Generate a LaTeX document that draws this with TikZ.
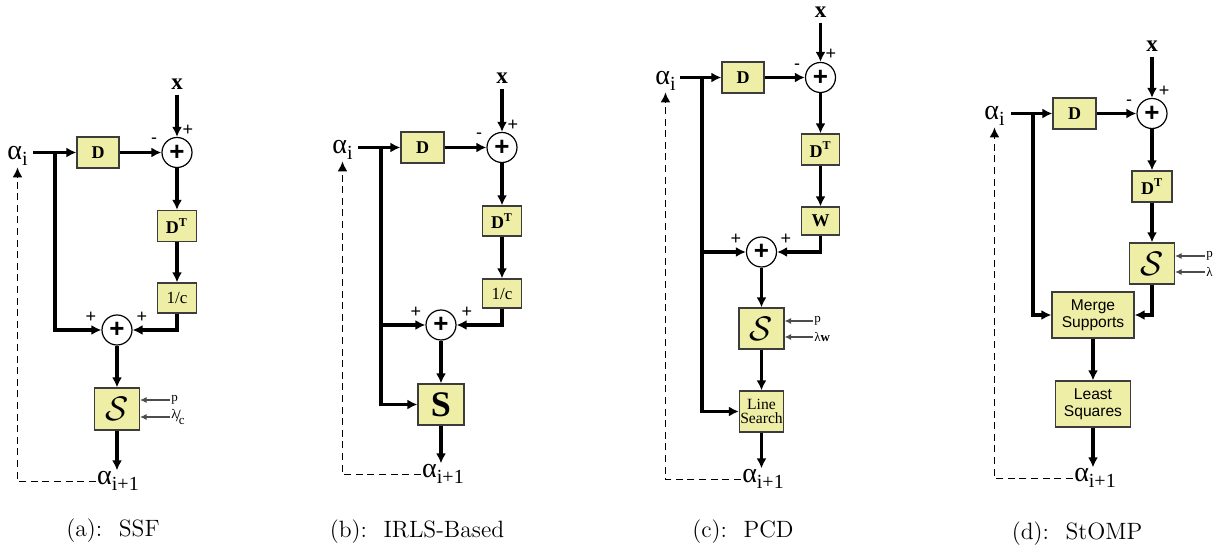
\documentclass[tikz,border=0pt]{standalone}
\usepackage{fontspec}
\newfontfamily\tnr{Liberation Serif}
\newfontfamily\arl{Liberation Sans}
\usetikzlibrary{arrows.meta}
\definecolor{boxfill}{RGB}{238,238,166}
\definecolor{boxline}{RGB}{60,60,60}
\newcommand\fsz[1]{\fontsize{#1}{#1}\selectfont}
\newcommand\alphalab[1]{{\tnr\fsz{14}α\raisebox{-3pt}{\fsz{10}#1}}}
\newcommand\calS{\scalebox{1.7}{$\mathcal{S}$}}
\newcommand\capgap{\hspace{0.7em}}
\tikzset{
  blk/.style={draw=boxline, fill=boxfill, line width=0.6pt, inner sep=0pt, align=center},
  sz/.style 2 args={minimum width=#1*0.5pt, minimum height=#2*0.5pt},
  sumc/.style={circle, draw=black, fill=white, line width=0.6pt, minimum size=15pt, inner sep=0pt, font=\arl\bfseries\fsz{13}},
  arr/.style={line width=1.6pt, -{Latex[length=5pt,width=5pt]}},
  darr/.style={line width=0.85pt, dash pattern=on 3.5pt off 2.3pt, -{Latex[length=5pt,width=5pt]}},
  tarr/.style={line width=0.55pt, draw=black!70, -{Latex[length=3.2pt,width=3pt]}},
  alab/.style={inner sep=0.5pt},
  xlab/.style={font=\tnr\bfseries\fsz{11.5}, inner sep=2.5pt},
  pm/.style={font=\arl\fsz{9}, inner sep=0pt},
  tlab/.style={font=\tnr\fsz{6.5}, inner sep=0.5pt},
  captxt/.style={font=\fsz{11.8}, anchor=base},
  bt/.style={font=\tnr\bfseries\fsz{9}},
  rt/.style={font=\tnr\fsz{8.5}},
  cs/.style={font=\fsz{10}},
}
\begin{document}
\begin{tikzpicture}[x=0.5pt,y=-0.5pt]
\useasboundingbox (0,0) rectangle (1223,550);

% ---------------- (a) SSF
\node[alab, anchor=base east] (ai-a) at (29,160) {\alphalab{i}};
\coordinate (st-a) at (33,152.5);
\coordinate (br-a) at (55,152.5);
\node[blk, sz={42}{31}, bt] (d-a) at (98,152.5) {D};
\node[sumc] (s1-a) at (177,152.5) {+};
\node[xlab] (x-a) at (177,84) {x};
\node[pm] (pp1-a) at (188,130) {+};
\node[pm] (mm1-a) at (154,141) {-};
\node[blk, sz={39}{31}, bt] (dt-a) at (177,226) {D\textsuperscript{T}};
\node[blk, sz={39}{30}, rt] (c-a) at (177,298) {1/c};
\node[sumc] (s2-a) at (117,330) {+};
\node[pm] (pp2-a) at (91,317) {+};
\node[pm] (pp3-a) at (142,317) {+};
\node[blk, sz={45}{42}, cs] (S-a) at (117,409) {\calS};
\node[alab, anchor=base] (ao-a) at (118,485) {\alphalab{i+1}};
\node[tlab, anchor=west] (p-a) at (170,400) {p};
\node[tlab, anchor=west] (l-a) at (170,417) {\raisebox{1.2pt}{λ}\kern-0.8pt{\fsz{8.5}/}\kern-1pt\raisebox{-1.5pt}{c}};
\draw[arr] (st-a) -- (d-a.west);
\draw[arr] (d-a.east) -- (s1-a.west);
\draw[arr] (x-a.south) -- (s1-a.north);
\draw[arr] (s1-a.south) -- (dt-a.north);
\draw[arr] (dt-a.south) -- (c-a.north);
\draw[arr] (c-a.south) |- (s2-a.east);
\draw[arr] (br-a) |- (s2-a.west);
\draw[arr] (s2-a.south) -- (S-a.north);
\draw[arr] (S-a.south) -- (S-a.south |- ao-a.north);
\draw[tarr] (p-a.west) -- (p-a.west -| S-a.east);
\draw[tarr] (l-a.west) -- (l-a.west -| S-a.east);
\draw[darr] (ao-a.west) -| (ai-a.south);
\node[captxt] (cap-a) at (113,537) {(a):\capgap SSF};

% ---------------- (b) IRLS
\node[alab, anchor=base east] (ai-b) at (354,154) {\alphalab{i}};
\coordinate (st-b) at (358,147.5);
\coordinate (br-b) at (381,147.5);
\node[blk, sz={43}{31}, bt] (d-b) at (422.5,147.5) {D};
\node[sumc] (s1-b) at (502,147.5) {+};
\node[xlab] (x-b) at (502,78) {x};
\node[pm] (pp1-b) at (513,125) {+};
\node[pm] (mm1-b) at (479,136) {-};
\node[blk, sz={39}{30}, bt] (dt-b) at (502,221) {D\textsuperscript{T}};
\node[blk, sz={39}{29}, rt] (c-b) at (502,293.5) {1/c};
\node[sumc] (s2-b) at (441,325) {+};
\node[pm] (pp2-b) at (416,312) {+};
\node[pm] (pp3-b) at (467,312) {+};
\node[blk, sz={46}{41}, font=\tnr\bfseries\fsz{18}] (S-b) at (441,404.5) {S};
\node[alab, anchor=base] (ao-b) at (443,478) {\alphalab{i+1}};
\draw[arr] (st-b) -- (d-b.west);
\draw[arr] (d-b.east) -- (s1-b.west);
\draw[arr] (x-b.south) -- (s1-b.north);
\draw[arr] (s1-b.south) -- (dt-b.north);
\draw[arr] (dt-b.south) -- (c-b.north);
\draw[arr] (c-b.south) |- (s2-b.east);
\draw[arr] (br-b) |- (S-b.west);
\draw[arr] (br-b |- s2-b) -- (s2-b.west);
\draw[arr] (s2-b.south) -- (S-b.north);
\draw[arr] (S-b.south) -- (S-b.south |- ao-b.north);
\draw[darr] (ao-b.west) -| (ai-b.south);
\node[captxt] (cap-b) at (417,538) {(b):\capgap IRLS-Based};

% ---------------- (c) PCD
\node[alab, anchor=base east] (ai-c) at (677,85) {\alphalab{i}};
\coordinate (st-c) at (680,77.5);
\coordinate (br-c) at (702,77.5);
\node[blk, sz={42}{31}, bt] (d-c) at (743,77.5) {D};
\node[sumc] (s1-c) at (820.5,77.5) {+};
\node[xlab] (x-c) at (820.5,12) {x};
\node[pm] (pp1-c) at (831,54) {+};
\node[pm] (mm1-c) at (797,67) {-};
\node[blk, sz={38}{31}, bt] (dt-c) at (820.5,149.5) {D\textsuperscript{T}};
\node[blk, sz={38}{28}, bt] (w-c) at (820.5,221) {W};
\node[sumc] (s2-c) at (761.5,252) {+};
\node[pm] (pp2-c) at (736,239) {+};
\node[pm] (pp3-c) at (786,239) {+};
\node[blk, sz={45}{41}, cs] (S-c) at (761.5,328.5) {\calS};
\node[blk, sz={44}{41}, font=\tnr\fsz{7.8}, align=center] (ls-c) at (761.5,411.5) {Line\\[-0.5pt]Search};
\node[alab, anchor=base] (ao-c) at (763,483) {\alphalab{i+1}};
\node[tlab, anchor=west] (p-c) at (813,321) {p};
\node[tlab, anchor=west] (l-c) at (813,337) {λ\textbf{w}};
\draw[arr] (st-c) -- (d-c.west);
\draw[arr] (d-c.east) -- (s1-c.west);
\draw[arr] (x-c.south) -- (s1-c.north);
\draw[arr] (s1-c.south) -- (dt-c.north);
\draw[arr] (dt-c.south) -- (w-c.north);
\draw[arr] (w-c.south) |- (s2-c.east);
\draw[arr] (br-c) |- (ls-c.west);
\draw[arr] (br-c |- s2-c) -- (s2-c.west);
\draw[arr] (s2-c.south) -- (S-c.north);
\draw[arr] (S-c.south) -- (ls-c.north);
\draw[arr] (ls-c.south) -- (ls-c.south |- ao-c.north);
\draw[tarr] (p-c.west) -- (p-c.west -| S-c.east);
\draw[tarr] (l-c.west) -- (l-c.west -| S-c.east);
\draw[darr] (ao-c.west) -| (ai-c.south);
\node[captxt] (cap-c) at (743,538) {(c):\capgap PCD};

% ---------------- (d) StOMP
\node[alab, anchor=base east] (ai-d) at (1006,120) {\alphalab{i}};
\coordinate (st-d) at (1011,113.5);
\coordinate (br-d) at (1033,113.5);
\node[blk, sz={43}{31}, bt] (d-d) at (1074.5,113.5) {D};
\node[sumc] (s1-d) at (1152,113.5) {+};
\node[xlab] (x-d) at (1152,46) {x};
\node[pm] (pp1-d) at (1164,91) {+};
\node[pm] (mm1-d) at (1129,103) {-};
\node[blk, sz={40}{31}, bt] (dt-d) at (1152,186.5) {D\textsuperscript{T}};
\node[blk, sz={45}{41}, cs] (S-d) at (1152,263.5) {\calS};
\node[blk, sz={82}{46}, font=\arl\fsz{7.8}, align=center] (ms-d) at (1093,315) {Merge\\[0.5pt]Supports};
\node[blk, sz={75}{46}, font=\arl\fsz{7.8}, align=center] (lq-d) at (1093,404) {Least\\[0.5pt]Squares};
\node[alab, anchor=base] (ao-d) at (1095,482) {\alphalab{i+1}};
\node[tlab, anchor=west] (p-d) at (1205,256) {p};
\node[tlab, anchor=west] (l-d) at (1205,272) {λ};
\draw[arr] (st-d) -- (d-d.west);
\draw[arr] (d-d.east) -- (s1-d.west);
\draw[arr] (x-d.south) -- (s1-d.north);
\draw[arr] (s1-d.south) -- (dt-d.north);
\draw[arr] (dt-d.south) -- (S-d.north);
\draw[arr] (S-d.south) |- (ms-d.east);
\draw[arr] (br-d) |- (ms-d.west);
\draw[arr] (ms-d.south) -- (lq-d.north);
\draw[arr] (lq-d.south) -- (lq-d.south |- ao-d.north);
\draw[tarr] (p-d.west) -- (p-d.west -| S-d.east);
\draw[tarr] (l-d.west) -- (l-d.west -| S-d.east);
\draw[darr] (ao-d.west) -| (ai-d.south);
\node[captxt] (cap-d) at (1077,540) {(d):\capgap StOMP};
\end{tikzpicture}
\end{document}
